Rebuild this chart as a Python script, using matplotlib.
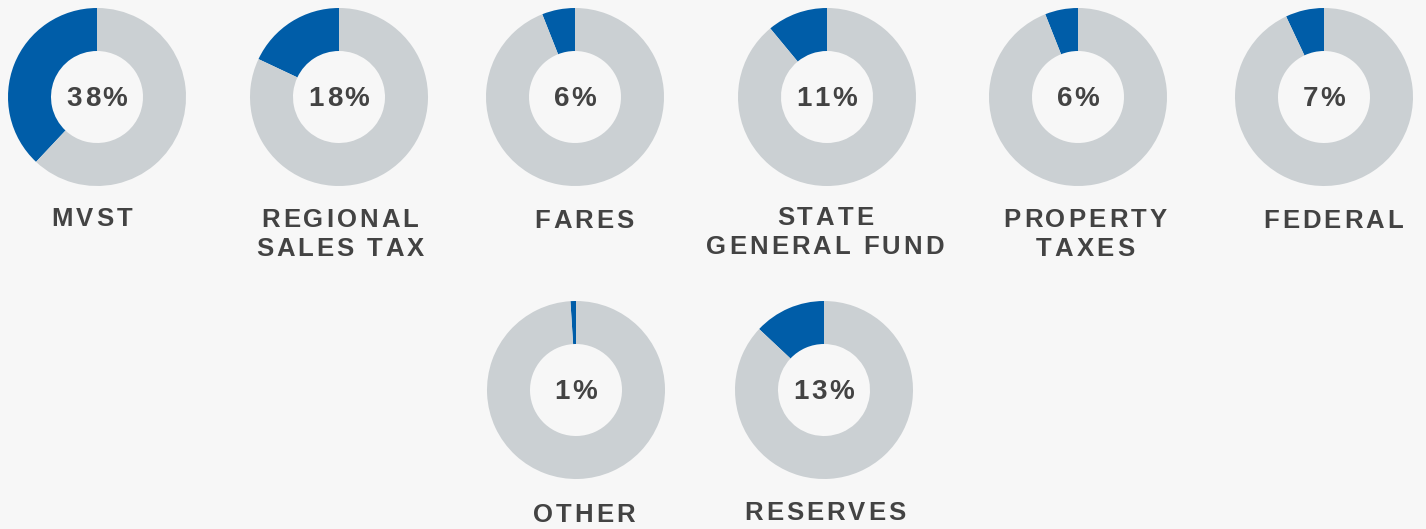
import matplotlib.pyplot as plt
from matplotlib.font_manager import FontProperties, findfont
from matplotlib.ft2font import FT2Font

# revenue sources and their share of the total
sources = [["MVST"], ["REGIONAL", "SALES TAX"], ["FARES"], ["STATE", "GENERAL FUND"],
           ["PROPERTY", "TAXES"], ["FEDERAL"], ["OTHER"], ["RESERVES"]]
shares = [38, 18, 6, 11, 6, 7, 1, 13]

# donut centres and label anchors (px, from top-left) on a 1426x529 canvas
centers_x = [97, 339, 575, 827, 1078, 1324, 576, 824]
centers_y = [97, 97, 97, 97, 97, 97, 390, 390]
label_x = [92, 340, 584, 825, 1085, 1333, 584, 825]
label_y = [217, 218, 219, 216, 218, 219, 513, 511]

BLUE = "#005DA8"
GRAY = "#CBD0D3"
BG = "#F7F7F7"
TEXT = "#434343"
W, H = 1426, 529
R_OUT, R_IN = 89, 46
LINE_GAP = 29

PROP = FontProperties(family="Liberation Sans", weight="bold")
FONT = FT2Font(findfont(PROP))


def advance(ch, size_pt):
    FONT.set_size(size_pt, 100)
    return FONT.load_char(ord(ch)).linearHoriAdvance / 65536


def spaced_text(ax, x, y, s, size_pt, tracking):
    """Draw s centred on x with extra letter spacing (px); y is the cap centre."""
    widths = [advance(c, size_pt) for c in s]
    total = sum(widths) + tracking * (len(s) - 1)
    pos = x - total / 2
    base = y + size_pt * 100 / 72 * 0.716 / 2
    for c, w in zip(s, widths):
        if c != " ":
            ax.text(pos, H - base, c, ha="left", va="baseline", fontsize=size_pt,
                    fontproperties=PROP, color=TEXT)
        pos += w + tracking


fig = plt.figure(figsize=(W / 100, H / 100), dpi=100, facecolor=BG)
ax = fig.add_axes([0, 0, 1, 1])
ax.set_facecolor(BG)

for lines, pct, cx, cy, lx, ly in zip(sources, shares, centers_x, centers_y, label_x, label_y):
    ax.pie([pct, 100 - pct], colors=[BLUE, GRAY], startangle=90, counterclock=True,
           center=(cx, H - cy), radius=R_OUT,
           wedgeprops=dict(width=R_OUT - R_IN, linewidth=0))
    spaced_text(ax, cx, cy - 1, f"{pct}%", 20, 2.5)
    for i, line in enumerate(lines):
        spaced_text(ax, lx, ly + i * LINE_GAP, line, 18.5, 3.0)

ax.set_xlim(0, W)
ax.set_ylim(0, H)
ax.set_aspect("equal")
ax.axis("off")
fig.savefig("out.png", dpi=100, facecolor=BG)
